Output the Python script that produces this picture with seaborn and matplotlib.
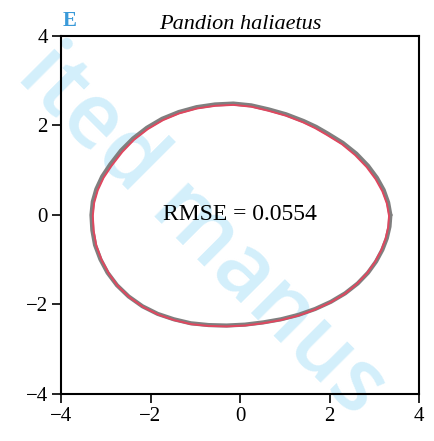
import matplotlib
matplotlib.use("Agg")
import matplotlib.pyplot as plt
import seaborn as sns
import pandas as pd

# Egg outline of Pandion haliaetus: traced contour (grey) and fitted model (red)
outline_x = [3.36, 3.31, 3.21, 3.06, 2.86, 2.60, 2.30, 1.96, 1.70, 1.42, 1.03, 0.64,
             0.25, -0.15, -0.56, -0.97, -1.37, -1.74, -2.08, -2.39, -2.66, -2.90,
             -3.08, -3.21, -3.29, -3.32, -3.30, -3.24, -3.12, -2.96, -2.75, -2.49,
             -2.18, -1.84, -1.48, -1.10, -0.70, -0.30, 0.11, 0.52, 0.92, 1.31,
             1.68, 2.03, 2.35, 2.63, 2.86, 3.04, 3.18, 3.28, 3.34, 3.36]
outline_y = [0.00, 0.28, 0.56, 0.83, 1.10, 1.37, 1.61, 1.82, 1.97, 2.10, 2.25, 2.36,
             2.45, 2.49, 2.47, 2.41, 2.30, 2.15, 1.95, 1.71, 1.44, 1.13,
             0.86, 0.58, 0.30, 0.00, -0.34, -0.67, -0.99, -1.29, -1.57, -1.82,
             -2.04, -2.21, -2.33, -2.42, -2.46, -2.47, -2.45, -2.40, -2.33, -2.23,
             -2.10, -1.94, -1.75, -1.53, -1.29, -1.04, -0.78, -0.52, -0.26, 0.00]

fit_x = [3.33, 3.28, 3.18, 3.03, 2.83, 2.57, 2.28, 1.94, 1.68, 1.41, 1.02, 0.63,
         0.25, -0.15, -0.55, -0.96, -1.36, -1.72, -2.06, -2.37, -2.63, -2.87,
         -3.05, -3.18, -3.26, -3.29, -3.27, -3.21, -3.09, -2.93, -2.73, -2.47,
         -2.16, -1.82, -1.47, -1.09, -0.69, -0.30, 0.11, 0.51, 0.91, 1.30,
         1.66, 2.01, 2.33, 2.60, 2.83, 3.01, 3.15, 3.25, 3.31, 3.33]
fit_y = [-0.02, 0.26, 0.53, 0.80, 1.07, 1.34, 1.58, 1.79, 1.94, 2.07, 2.22, 2.33,
         2.42, 2.46, 2.44, 2.38, 2.27, 2.12, 1.92, 1.68, 1.41, 1.10,
         0.83, 0.55, 0.27, -0.02, -0.36, -0.69, -1.01, -1.31, -1.59, -1.84,
         -2.06, -2.23, -2.35, -2.44, -2.48, -2.49, -2.47, -2.42, -2.35, -2.25,
         -2.12, -1.96, -1.77, -1.55, -1.31, -1.06, -0.80, -0.54, -0.28, -0.02]

rmse = 0.0554
ticks = [-4, -2, 0, 2, 4]
species = "Pandion haliaetus"
panel = "E"

sns.set_theme(style="white")
plt.rcParams["font.family"] = ["Liberation Serif", "DejaVu Serif"]
plt.rcParams["axes.unicode_minus"] = True
plt.rcParams["text.color"] = "black"

fig = plt.figure(figsize=(4.34, 4.41), dpi=100)
fig.patch.set_facecolor("white")
ax = fig.add_axes([0.1406, 0.1066, 0.8249, 0.8118])
ax.set_facecolor("none")

# faint diagonal watermark behind the plot
fig.text(0.465, 0.475, "ited manus", rotation=-45, rotation_mode="anchor",
         ha="center", va="center", fontsize=64, fontweight="semibold",
         color="#d3effb", family=["Open Sans", "DejaVu Sans"], zorder=-5)

outline = pd.DataFrame({"x": outline_x, "y": outline_y})
fit = pd.DataFrame({"x": fit_x, "y": fit_y})
sns.lineplot(data=outline, x="x", y="y", sort=False, estimator=None,
             color="#7f7f7f", linewidth=3.0, solid_joinstyle="round", ax=ax)
sns.lineplot(data=fit, x="x", y="y", sort=False, estimator=None,
             color="#e0475f", linewidth=1.4, solid_joinstyle="round", ax=ax)

ax.text(0, 0, f"RMSE = {rmse}", ha="center", va="center", fontsize=17,
        color="black")

ax.set_xlim(-4, 4)
ax.set_ylim(-4, 4)
ax.set_xticks(ticks)
ax.set_yticks(ticks)
ax.set_xlabel("")
ax.set_ylabel("")
ax.tick_params(axis="both", which="major", direction="out", length=6.5,
               width=1.2, labelsize=15, pad=3, colors="black",
               bottom=True, left=True, top=False, right=False)
for s in ax.spines.values():
    s.set_visible(True)
    s.set_color("black")
    s.set_linewidth(1.5)

ax.set_title(species, fontstyle="italic", fontsize=16, pad=5, color="black")
ax.text(0.005, 1.015, panel, transform=ax.transAxes, ha="left", va="bottom",
        fontsize=15, fontweight="bold", color="#3a9ad9")

fig.savefig("out.png", dpi=100)
